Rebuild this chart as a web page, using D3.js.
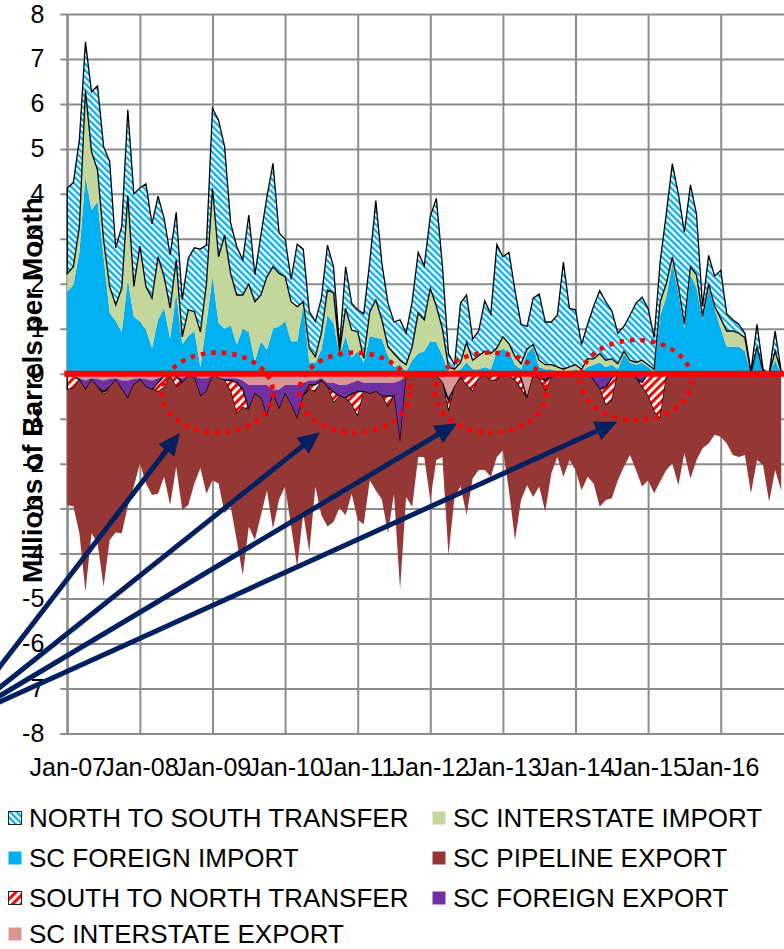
<!DOCTYPE html>
<html>
<head>
<meta charset="utf-8">
<script src="https://cdn.jsdelivr.net/npm/d3@7"></script>
<style>
    body { margin: 0; background: #fff; }
    svg { display: block; font-family: "Liberation Sans", Arial, sans-serif; }
</style>
</head>
<body>
<svg width="784" height="949"></svg>
<script>
// Tick labels
const yearLabels = ["Jan-07", "Jan-08", "Jan-09", "Jan-10", "Jan-11", "Jan-12", "Jan-13", "Jan-14", "Jan-15", "Jan-16"];
const yTicks = d3.range(-8, 9);

// Monthly values, millions of barrels, Jan-07 .. Nov-16
const foreignImport = [
    1.82, 1.97, 2.70, 4.38, 3.64, 3.83, 2.60, 1.35, 1.17, 0.92,
    2.08, 1.27, 1.16, 0.98, 0.57, 1.20, 1.46, 0.77, 1.80, 0.65,
    0.84, 0.95, 0.15, 1.13, 2.15, 1.13, 1.00, 1.08, 0.65, 1.00,
    0.93, 0.27, 0.72, 0.54, 1.00, 1.05, 1.16, 0.72, 0.72, 1.50,
    0.25, 0.25, 0.54, 1.30, 1.13, 0.40, 0.84, 0.36, 0.50, 0.25,
    0.84, 0.80, 0.77, 0.40, 0.15, 0.20, 0.05, 0.30, 0.45, 0.50,
    0.72, 0.70, 0.40, 0.05, 0.05, 0.10, 0.25, 0.10, 0.10, 0.15,
    0.10, 0.50, 0.55, 0.50, 0.20, 0.10, 0.45, 0.60, 0.15, 0.10,
    0.10, 0.05, 0.05, 0.05, 0.10, 0.05, 0.15, 0.20, 0.25, 0.15,
    0.20, 0.10, 0.45, 0.25, 0.20, 0.25, 0.15, 0.05, 1.30, 1.70,
    2.45, 1.80, 1.00, 2.20, 1.90, 1.20, 1.90, 1.45, 1.00, 0.60,
    0.60, 0.60, 0.50, 0.00, 0.55, 0.00, 0.00, 0.30, 0.00
];
const interstateImport = [
    0.41, 0.41, 0.57, 1.93, 1.30, 0.70, 0.37, 0.59, 0.36, 0.98,
    1.89, 0.67, 1.68, 0.96, 1.11, 1.40, 0.70, 0.69, 0.73, 0.17,
    0.58, 0.43, 0.78, 0.87, 1.98, 1.47, 2.08, 1.15, 1.10, 0.75,
    1.07, 1.33, 1.03, 1.62, 1.38, 1.18, 1.00, 0.88, 0.77, 0.10,
    0.32, 0.13, 0.36, 0.56, 0.67, 0.09, 0.62, 0.61, 0.43, 0.09,
    0.54, 0.84, 0.43, 0.20, 0.30, 0.10, 0.15, 0.30, 0.90, 0.70,
    1.18, 0.80, 0.60, 0.10, 0.05, 0.15, 0.45, 0.20, 0.30, 0.35,
    0.35, 0.07, 0.27, 0.17, 0.18, 0.12, 0.10, 0.05, 0.15, 0.10,
    0.10, 0.10, 0.05, 0.10, 0.10, 0.05, 0.18, 0.13, 0.20, 0.15,
    0.13, 0.12, 0.05, 0.05, 0.05, 0.05, 0.05, 0.05, 0.30, 0.30,
    0.15, 0.14, 0.10, 0.18, 0.30, 0.07, 0.10, 0.05, 0.23, 0.35,
    0.35, 0.30, 0.30, 0.00, 0.05, 0.05, 0.00, 0.20, 0.05
];
const northToSouth = [
    1.90, 1.87, 1.93, 1.07, 1.33, 1.87, 2.08, 2.78, 1.27, 1.37,
    1.90, 2.06, 1.29, 2.28, 1.65, 1.35, 1.30, 1.18, 1.06, 0.82,
    1.15, 1.42, 1.84, 0.86, 1.77, 3.04, 1.97, 1.12, 1.08, 0.78,
    1.53, 0.60, 1.33, 1.78, 2.30, 0.90, 0.83, 0.50, 1.39, 1.17,
    0.81, 0.78, 0.78, 1.00, 0.58, 0.11, 0.92, 0.60, 0.49, 0.99,
    1.12, 2.21, 1.25, 0.97, 0.70, 0.90, 0.70, 1.00, 1.35, 1.20,
    1.60, 2.40, 1.40, 0.30, 0.10, 1.32, 1.05, 0.47, 0.55, 1.12,
    0.88, 2.30, 1.78, 2.03, 1.47, 0.88, 0.50, 1.03, 1.47, 0.95,
    0.95, 1.15, 2.38, 1.30, 1.22, 0.55, 0.77, 1.17, 1.40, 1.30,
    1.07, 0.68, 0.55, 1.00, 1.32, 1.40, 1.25, 0.70, 0.90, 1.55,
    2.07, 2.06, 2.05, 1.82, 1.35, 0.23, 0.63, 0.67, 1.07, 0.38,
    0.25, 0.20, 0.10, 0.05, 0.50, 0.05, 0.00, 0.45, 0.00
];
const interstateExport = [
    -0.05, -0.05, -0.10, -0.15, -0.10, -0.12, -0.15, -0.12, -0.10, -0.15,
    -0.15, -0.12, -0.10, -0.12, -0.15, -0.10, -0.05, -0.05, -0.05, -0.10,
    -0.05, -0.05, -0.10, -0.10, -0.05, -0.10, -0.10, -0.10, -0.10, -0.15,
    -0.25, -0.25, -0.25, -0.25, -0.35, -0.35, -0.25, -0.25, -0.25, -0.20,
    -0.15, -0.15, -0.10, -0.20, -0.20, -0.25, -0.25, -0.20, -0.15, -0.20,
    -0.20, -0.20, -0.20, -0.20, -0.20, -0.15, -0.05, -0.05, 0, 0,
    -0.05, -0.05, -0.20, -0.50, -0.30, 0, 0, 0, 0, -0.05,
    -0.05, 0, 0, -0.05, 0, -0.10, -0.50, -0.05, 0, 0,
    0, 0, 0, 0, 0, 0, 0, 0, 0, 0,
    0, 0, 0, 0, 0, 0, 0, 0, 0, 0,
    0, 0, 0, 0, 0, 0, 0, 0, 0, 0,
    0, 0, 0, 0, 0, 0, 0, 0, 0
];
const foreignExport = [
    0, 0, -0.04, -0.21, -0.04, -0.18, -0.25, -0.18, -0.04, -0.20,
    -0.40, -0.13, -0.04, -0.18, -0.21, -0.10, 0, 0, 0, -0.10,
    0, -0.05, -0.40, -0.30, 0, 0, -0.05, -0.05, -0.10, -0.20,
    -0.55, -0.20, -0.30, -0.70, -0.10, -0.45, -0.20, -0.45, -0.75, -0.30,
    -0.10, -0.10, -0.05, -0.10, -0.20, -0.25, -0.30, -0.25, -0.25, -0.20,
    -0.25, -0.20, -0.30, -0.30, -0.30, -1.40, -0.05, 0, 0, -0.05,
    0, 0, 0, -0.10, 0, -0.10, 0, 0, 0, 0,
    0, 0, 0, 0, 0, 0, -0.05, 0, -0.10, -0.15,
    -0.05, 0, 0, 0, 0, 0, 0, -0.15, -0.35, -0.30,
    -0.10, 0, 0, 0, -0.10, -0.20, 0, 0, 0, 0,
    0, 0, 0, 0, 0, 0, 0, 0, 0, 0,
    0, 0, 0, -0.05, 0, 0, 0, 0, 0
];
const southToNorth = [
    -0.30, -0.28, 0, 0, 0, 0, -0.07, 0, 0, 0,
    0, 0, 0, 0, 0, -0.20, -0.25, 0, -0.25, 0,
    0, 0, 0, 0, 0, 0, 0, -0.25, -0.70, -0.40,
    0, 0, 0, 0, 0, 0, 0, 0, 0, 0,
    -0.10, -0.15, 0, 0, -0.25, 0, 0, -0.25, -0.55, 0,
    0, 0, 0, -0.25, 0, 0, 0, 0, 0, 0,
    0, 0, 0, -0.25, 0, 0, -0.25, -0.40, -0.10, 0,
    -0.10, -0.15, 0, 0, -0.15, -0.25, 0, 0, 0, -0.25,
    -0.05, 0, 0, 0, 0, 0, 0, 0, 0, -0.40,
    -0.50, 0, 0, 0, 0, -0.10, -0.50, -0.85, -1.00, -0.10,
    0, 0, 0, 0, 0, 0, 0, 0, 0, 0,
    0, 0, 0, 0, 0, 0, 0, 0, 0
];
const pipelineExport = [
    -2.57, -2.62, -3.41, -4.49, -3.41, -3.47, -4.27, -3.40, -3.39, -3.20,
    -2.40, -2.26, -1.85, -2.14, -2.34, -2.27, -1.99, -2.87, -1.77, -2.83,
    -2.87, -2.34, -1.60, -2.27, -2.32, -2.34, -2.95, -2.55, -2.80, -3.73,
    -2.60, -3.25, -2.60, -1.65, -3.00, -2.00, -2.06, -2.70, -3.30, -2.60,
    -3.62, -2.11, -3.00, -3.10, -2.65, -2.48, -2.60, -1.97, -2.30, -2.95,
    -1.92, -2.20, -2.30, -2.80, -2.17, -3.25, -2.64, -2.91, -1.85, -1.80,
    -2.76, -1.87, -1.65, -3.18, -2.44, -2.41, -2.89, -1.93, -2.04, -2.09,
    -2.14, -1.70, -1.70, -2.54, -3.55, -2.46, -1.93, -2.69, -2.41, -2.67,
    -2.12, -1.85, -2.29, -1.92, -2.14, -2.59, -2.29, -2.29, -2.61, -2.11,
    -2.17, -2.37, -2.07, -1.81, -2.04, -2.21, -1.87, -1.81, -1.40, -2.04,
    -1.99, -2.48, -1.77, -2.33, -1.92, -1.66, -1.55, -1.36, -1.40, -1.55,
    -1.81, -1.85, -1.81, -2.61, -1.92, -2.03, -2.85, -2.14, -2.60
];

const series = [
    { key: "fi", name: "SC FOREIGN IMPORT", values: foreignImport, fill: "#00B0F0" },
    { key: "ii", name: "SC INTERSTATE IMPORT", values: interstateImport, fill: "#C3D69B" },
    { key: "ns", name: "NORTH TO SOUTH TRANSFER", values: northToSouth, fill: "url(#hatchBlue)", outline: true },
    { key: "ie", name: "SC INTERSTATE EXPORT", values: interstateExport, fill: "#D99694" },
    { key: "fe", name: "SC FOREIGN EXPORT", values: foreignExport, fill: "#7030A0" },
    { key: "sn", name: "SOUTH TO NORTH TRANSFER", values: southToNorth, fill: "url(#hatchRed)", outline: true },
    { key: "pe", name: "SC PIPELINE EXPORT", values: pipelineExport, fill: "#953735" }
];
const byKey = Object.fromEntries(series.map(s => [s.key, s]));

const rows = foreignImport.map((_, i) => {
    const r = { i };
    series.forEach(s => r[s.key] = s.values[i]);
    return r;
});

const svg = d3.select("svg");
const x = d3.scaleLinear().domain([0, 120]).range([67.3, 793.3]);
const y = d3.scaleLinear().domain([-8, 8]).range([733.4, 14]);
const right = 800;

// Patterns
const defs = svg.append("defs");
const hatch = (id, color, size, angle) => {
    const p = defs.append("pattern").attr("id", id)
        .attr("patternUnits", "userSpaceOnUse")
        .attr("width", size).attr("height", size)
        .attr("patternTransform", `rotate(${angle})`);
    p.append("rect").attr("width", size).attr("height", size).attr("fill", "#fff");
    p.append("rect").attr("width", size / 2).attr("height", size).attr("fill", color);
};
hatch("hatchBlue", "#00B0F0", 4.6, -45);
hatch("hatchRed", "#FF0000", 6, 45);

// Grid
const gridColor = "#8C8C8C";
const gx = svg.append("g")
    .attr("transform", `translate(0,${y(-8)})`)
    .call(d3.axisBottom(x).tickValues(d3.range(0, 121, 12)).tickSize(-(y(-8) - y(8))).tickFormat(""));
const gy = svg.append("g")
    .attr("transform", `translate(${x(0)},0)`)
    .call(d3.axisLeft(y).tickValues(yTicks).tickSize(-(right - x(0))).tickFormat(""));
gy.selectAll(".tick line").attr("x1", -7);
[gx, gy].forEach(g => {
    g.select(".domain").remove();
    g.selectAll(".tick line").attr("stroke", gridColor).attr("stroke-width", 2);
});
svg.append("line")
    .attr("x1", x(0)).attr("x2", x(0)).attr("y1", y(8)).attr("y2", y(-8))
    .attr("stroke", gridColor).attr("stroke-width", 2);

// Stacks: imports up from zero, exports down from zero
const posKeys = ["fi", "ii", "ns"];
const negKeys = ["ie", "fe", "sn", "pe"];
const layers = [...d3.stack().keys(posKeys)(rows), ...d3.stack().keys(negKeys)(rows)];

const area = d3.area()
    .x(d => x(d.data.i))
    .y0(d => y(d[0]))
    .y1(d => y(d[1]));

svg.append("g").selectAll("path")
    .data(layers)
    .join("path")
    .attr("d", area)
    .attr("fill", d => byKey[d.key].fill)
    .attr("stroke", d => byKey[d.key].outline ? "#000" : "none")
    .attr("stroke-width", 1.3)
    .attr("stroke-linejoin", "miter");

// Zero line
svg.append("line")
    .attr("x1", x(0) - 3).attr("x2", right)
    .attr("y1", y(0)).attr("y2", y(0))
    .attr("stroke", "#FF0000").attr("stroke-width", 6);

// Axis labels
const yAxis = svg.append("g")
    .attr("transform", `translate(${x(0)},0)`)
    .call(d3.axisLeft(y).tickValues(yTicks).tickSize(7).tickPadding(16).tickFormat(d => String(d)));
const xAxis = svg.append("g")
    .attr("transform", `translate(0,${y(-8)})`)
    .call(d3.axisBottom(x).tickValues(d3.range(0, 109, 12)).tickSize(0).tickPadding(25)
        .tickFormat((d, i) => yearLabels[i]));
[yAxis, xAxis].forEach(g => {
    g.select(".domain").remove();
    g.selectAll(".tick line").remove();
    g.selectAll("text").attr("font-family", "Liberation Sans, Arial, sans-serif")
        .attr("font-size", 25).attr("fill", "#000");
});

svg.append("text")
    .attr("transform", "translate(42,390) rotate(-90)")
    .attr("text-anchor", "middle")
    .attr("font-size", 28)
    .attr("font-weight", "bold")
    .text("Millions of Barrels per Month");

// Highlight ellipses and arrows
const circled = [[24.8, -0.42], [47.5, -0.42], [70, -0.42], [94, -0.14]];
svg.append("g").selectAll("ellipse")
    .data(circled)
    .join("ellipse")
    .attr("cx", d => x(d[0])).attr("cy", d => y(d[1]))
    .attr("rx", x(9.2) - x(0)).attr("ry", y(0) - y(0.89))
    .attr("fill", "none")
    .attr("stroke", "#FF0000")
    .attr("stroke-width", 4.5)
    .attr("stroke-dasharray", "4.5 6");

const arrowFrom = [-18.07, -7.72];
const arrowTips = [[18.6, -1.32], [41.75, -1.30], [64.4, -1.10], [90.9, -1.07]];
const navy = "#002060";
const ag = svg.append("g");
arrowTips.forEach(t => {
    const x0 = x(arrowFrom[0]), y0 = y(arrowFrom[1]);
    const x1 = x(t[0]), y1 = y(t[1]);
    const len = Math.hypot(x1 - x0, y1 - y0);
    const ux = (x1 - x0) / len, uy = (y1 - y0) / len;
    const head = 22, half = 10;
    const bx = x1 - ux * head, by = y1 - uy * head;
    ag.append("line")
        .attr("x1", x0).attr("y1", y0)
        .attr("x2", bx + ux * 2).attr("y2", by + uy * 2)
        .attr("stroke", navy).attr("stroke-width", 5);
    ag.append("path")
        .attr("d", `M${x1},${y1}L${bx - uy * half},${by + ux * half}L${bx + uy * half},${by - ux * half}Z`)
        .attr("fill", navy);
});

// Legend
const legendItems = [
    { key: "ns", col: 0, row: 0 }, { key: "ii", col: 1, row: 0 },
    { key: "fi", col: 0, row: 1 }, { key: "pe", col: 1, row: 1 },
    { key: "sn", col: 0, row: 2 }, { key: "fe", col: 1, row: 2 },
    { key: "ie", col: 0, row: 3 }
];
const rowY = [818, 858, 898, 934];
const colX = [8, 432];
const lg = svg.append("g").selectAll("g")
    .data(legendItems)
    .join("g")
    .attr("transform", d => `translate(${colX[d.col]},${rowY[d.row]})`);
lg.append("rect")
    .attr("x", 0.5).attr("y", -6.5).attr("width", 13).attr("height", 13)
    .attr("fill", d => byKey[d.key].fill)
    .attr("stroke", d => byKey[d.key].outline ? "#202020" : "none")
    .attr("stroke-width", 1);
lg.append("text")
    .attr("x", 21).attr("dy", "0.36em")
    .attr("font-size", 26)
    .attr("fill", "#000")
    .text(d => byKey[d.key].name);
</script>
</body>
</html>
